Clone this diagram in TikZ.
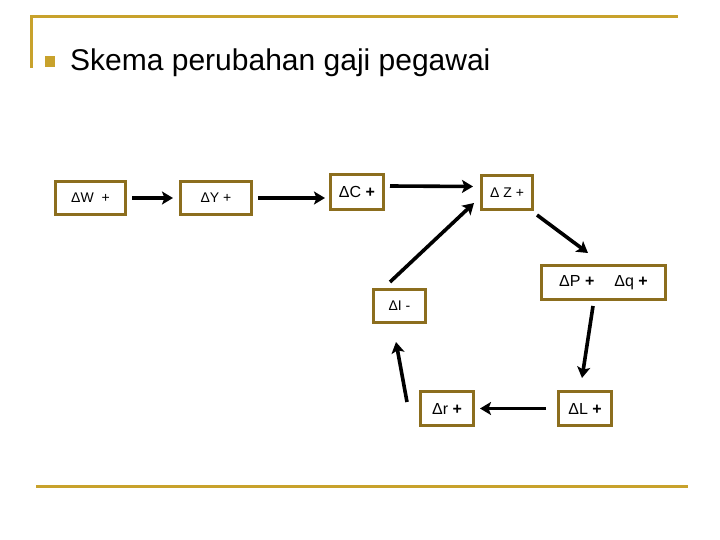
\documentclass[tikz,border=0pt]{standalone}
\usepackage{fontspec}
\setmainfont{Liberation Sans}
\usetikzlibrary{arrows.meta}
\definecolor{gold}{HTML}{C8A22C}
\definecolor{boxgold}{HTML}{8C6E1E}
\tikzset{
  boxnode/.style={draw=boxgold, line width=3pt, fill=white, inner sep=0pt, font=\fontsize{14}{16}\selectfont},
  bignode/.style={boxnode, font=\fontsize{16}{18}\selectfont},
  arr/.style={line width=3.6pt, -{Stealth[length=11pt,width=13pt,inset=2.5pt]}},
  rule/.style={draw=gold, line width=3pt}
}
\begin{document}
\begin{tikzpicture}[x=1pt,y=-1pt]
\path[use as bounding box] (0,0) rectangle (720,540);
% frame lines
\draw[rule] (31,68) -- (31,17) -- (678,17);
\draw[rule] (36,486) -- (688,486);
% title
\fill[gold] (45,56) rectangle (55,67);
\node[anchor=base west, inner sep=0pt, font=\fontsize{30}{34}\selectfont] (title) at (70,71) {Skema perubahan gaji pegawai};
% boxes
\node[boxnode, minimum width=70pt, minimum height=33pt] (w) at (90.5,198) {ΔW\ \ +};
\node[boxnode, minimum width=71pt, minimum height=33pt] (y) at (216,198) {ΔY +};
\node[bignode, minimum width=53pt, minimum height=35pt] (c) at (357,192) {ΔC \textbf{+}};
\node[boxnode, minimum width=51pt, minimum height=34pt] (z) at (507,192.5) {Δ Z +};
\node[bignode, minimum width=124pt, minimum height=34pt] (pq) at (603.5,282.5) {ΔP \textbf{+}\hspace{20pt}Δq \textbf{+}};
\node[boxnode, minimum width=52pt, minimum height=33pt] (i) at (399.5,306) {ΔI -};
\node[bignode, minimum width=53pt, minimum height=34pt] (l) at (585,408.5) {ΔL \textbf{+}};
\node[bignode, minimum width=53pt, minimum height=34pt] (r) at (447,408.5) {Δr \textbf{+}};
% free ends
\coordinate (zp1) at (537,215);
\coordinate (zp2) at (588,253);
\coordinate (pl1) at (593,306);
\coordinate (pl2) at (582,378);
\coordinate (ri1) at (407,402);
\coordinate (ri2) at (396,342);
\coordinate (iz1) at (390,282);
\coordinate (iz2) at (474,203);
% connectors
\draw[arr, shorten <=5pt, shorten >=6pt] (w) -- (y);
\draw[arr] ([xshift=5pt]y.east) -- ([xshift=-4pt]y.east -| c.west);
\draw[arr] ([yshift=6pt,xshift=5pt]c.east) -- ([yshift=6pt,xshift=-7pt]z.west);
\draw[arr] (zp1) -- (zp2);
\draw[arr] (pl1) -- (pl2);
\draw[arr, shorten <=11pt, shorten >=5pt] (l) -- (r);
\draw[arr] (ri1) -- (ri2);
\draw[arr] (iz1) -- (iz2);
\end{tikzpicture}
\end{document}
